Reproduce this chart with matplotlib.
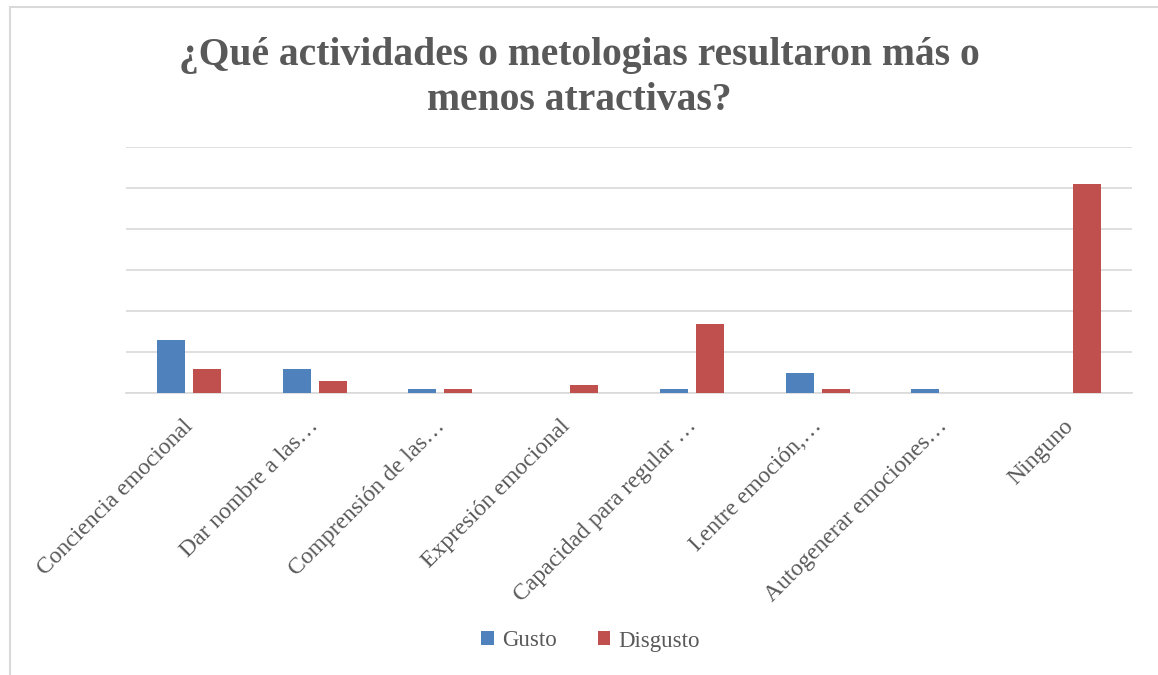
import matplotlib
matplotlib.use("Agg")
import matplotlib.pyplot as plt
import numpy as np
from matplotlib.patches import Rectangle

categories = ["Conciencia emocional", "Dar nombre a las…", "Comprensión de las…",
              "Expresión emocional", "Capacidad para regular …", "I.entre emoción,…",
              "Autogenerar emociones…", "Ninguno"]
gusto = [13, 6, 1, 0, 1, 5, 1, 0]
disgusto = [6, 3, 1, 2, 17, 1, 0, 51]
series_names = ["Gusto", "Disgusto"]
colors = ["#4F81BD", "#C0504D"]

W, H = 1158, 675
fig = plt.figure(figsize=(W / 100, H / 100), dpi=100)
serif = ["Liberation Serif", "DejaVu Serif"]
text_col = "#595959"

# chart border (only top and left edges fall inside the image)
fig.patches.append(Rectangle((9.5 / W, -0.05), 1.2, 1 - 6.5 / H + 0.05, transform=fig.transFigure,
                             fill=False, edgecolor="#d9d9d9", linewidth=1.5))

ax = fig.add_axes([126 / W, 1 - 393.3 / H, (1132 - 126) / W, (393.3 - 147.3) / H])
x = np.arange(len(categories))
bw = 0.223
gap = 0.064
ax.bar(x - (bw + gap) / 2, gusto, width=bw, color=colors[0], label=series_names[0], zorder=3)
ax.bar(x + (bw + gap) / 2, disgusto, width=bw, color=colors[1], label=series_names[1], zorder=3)
ax.set_xlim(-0.5, len(categories) - 0.5)
ax.set_ylim(0, 60)
ax.set_yticks(np.arange(0, 61, 10))
ax.yaxis.grid(True, color="#d9d9d9", linewidth=1.2, zorder=0)
ax.set_yticklabels([])
ax.tick_params(axis="y", length=0)
ax.tick_params(axis="x", length=0, pad=16)
for s in ["top", "right", "left"]:
    ax.spines[s].set_visible(False)
ax.spines["bottom"].set_color("#d9d9d9")
ax.spines["bottom"].set_linewidth(1.2)
ax.set_xticks(x - 0.05)
ax.set_xticklabels(categories, rotation=45, ha="right", va="top", rotation_mode="anchor",
                   fontsize=17, color=text_col, family=serif)

fig.text(0.5, 1 - 78 / H, "¿Qué actividades o metologias resultaron más o\nmenos atractivas?",
         ha="center", va="center", fontsize=28.5, fontweight="bold", color=text_col,
         family=serif, linespacing=1.25)

leg = fig.legend(loc="center", bbox_to_anchor=(0.51, 1 - 641 / H), ncol=2, frameon=False,
                 prop={"family": serif, "size": 16.5}, handlelength=0.55, handleheight=0.55,
                 columnspacing=1.8, handletextpad=0.35)
for t in leg.get_texts():
    t.set_color(text_col)

fig.savefig("out.png", dpi=100)
